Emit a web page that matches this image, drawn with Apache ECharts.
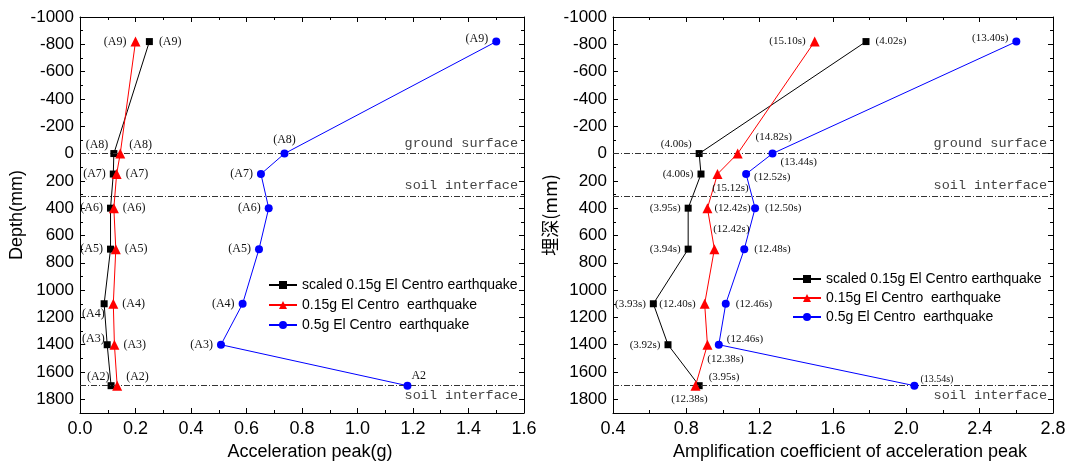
<!DOCTYPE html>
<html>
<head>
<meta charset="utf-8">
<script src="https://cdn.jsdelivr.net/npm/echarts@6/dist/echarts.min.js"></script>
<style>
  html, body { margin: 0; padding: 0; background: #fff; }
  #chart { width: 1072px; height: 466px; }
</style>
</head>
<body>
<div id="chart"></div>
<script>
// Measuring points from top (A9, above ground) to bottom (A2, lower soil interface)
const depthMm = [-820, 0, 150, 400, 700, 1100, 1400, 1700];

// Acceleration peak (g)
const accScaled = [0.25, 0.122, 0.12, 0.11, 0.11, 0.087, 0.098, 0.112];
const acc015 = [0.20, 0.145, 0.132, 0.122, 0.129, 0.12, 0.124, 0.134];
const acc05 = [1.50, 0.737, 0.652, 0.68, 0.645, 0.586, 0.508, 1.18];

// Amplification coefficient of acceleration peak
const ampScaled = [1.78, 0.87, 0.88, 0.81, 0.81, 0.62, 0.70, 0.87];
const amp015 = [1.50, 1.08, 0.97, 0.915, 0.953, 0.90, 0.915, 0.85];
const amp05 = [2.60, 1.27, 1.126, 1.175, 1.116, 1.015, 0.977, 2.044];

// Point labels
const pointTagsScaled = ['(A9)', '(A8)', '(A7)', '(A6)', '(A5)', '(A4)', '(A3)', '(A2)'];
const pointTags015 = ['(A9)', '(A8)', '(A7)', '(A6)', '(A5)', '(A4)', '(A3)', '(A2)'];
const pointTags05 = ['(A9)', '(A8)', '(A7)', '(A6)', '(A5)', '(A4)', '(A3)', 'A2'];

// Time of peak acceleration
const peakTimeScaled = ['(4.02s)', '(4.00s)', '(4.00s)', '(3.95s)', '(3.94s)', '(3.93s)', '(3.92s)', '(3.95s)'];
const peakTime015 = ['(15.10s)', '(14.82s)', '(15.12s)', '(12.42s)', '(12.42s)', '(12.40s)', '(12.38s)', '(12.38s)'];
const peakTime05 = ['(13.40s)', '(13.44s)', '(12.52s)', '(12.50s)', '(12.48s)', '(12.46s)', '(12.46s)', '(13.54s)'];

// Depth axis ticks and reference levels
const depthTickStep = 200;
const groundSurface = 0;
const soilInterfaceUpper = 310;
const soilInterfaceLower = 1700;

const seriesNames = [
  'scaled 0.15g El Centro earthquake',
  '0.15g El Centro  earthquake',
  '0.5g El Centro  earthquake'
];

// ---- label placement: [side, dx, dy] per point ----
const placeAccScaled = [['right',2,0],['left',2,-9],['left',0,0],['left',0,0],['left',0,0],['left',8,10],['left',5,-6],['left',6,-9]];
const placeAcc015 = [['left',0,0],['right',0,-9],['right',0,0],['right',0,0],['right',0,0],['right',0,0],['right',0,0],['right',0,-9]];
const placeAcc05 = [['left',0,-3],['top',0,0],['left',0,0],['left',0,0],['left',0,0],['left',0,0],['left',0,0],['right',-4,-10]];
const placeAmpScaled = [['right',2,0],['left',0,-9],['left',0,0],['left',0,0],['left',0,0],['left',0,0],['left',0,0],['right',2,-9]];
const placeAmp015 = [['left',0,0],['top',36,-2],['bottom',13,0],['right',-2,0],['top',17,-6],['left',0,0],['bottom',18,0],['bottom',-6,-1]];
const placeAmp05 = [['left',0,-3],['right',0,9],['right',0,3],['right',2,0],['right',2,0],['right',2,0],['right',0,-6],['right',-2,-6]];

const serif = '"Liberation Serif", "DejaVu Serif", serif';
const sans = '"Liberation Sans", Arial, sans-serif';
const mono = '"Liberation Mono", "DejaVu Sans Mono", monospace';

function buildData(xs, tags, place, fontSize, smallLast) {
  return xs.map(function (x, i) {
    const p = place[i];
    return {
      value: [x, depthMm[i]],
      label: {
        show: true,
        position: p[0],
        offset: [p[1], p[2]],
        distance: 4,
        formatter: tags[i],
        fontFamily: serif,
        fontSize: (smallLast && i === xs.length - 1) ? 10 : fontSize,
        color: '#111'
      }
    };
  });
}

const refLineStyle = { type: [6, 2, 1, 2], color: '#333', width: 1 };
const refLabel = { color: '#444', fontFamily: mono, fontSize: 13.5, distance: [6, 3] };
function refLines() {
  return {
    silent: true,
    symbol: ['none', 'none'],
    lineStyle: refLineStyle,
    data: [
      { yAxis: groundSurface, label: Object.assign({ formatter: 'ground surface', position: 'insideEndTop' }, refLabel) },
      { yAxis: soilInterfaceUpper, label: Object.assign({ formatter: 'soil interface', position: 'insideEndTop' }, refLabel) },
      { yAxis: soilInterfaceLower, label: Object.assign({ formatter: 'soil interface', position: 'insideEndBottom' }, refLabel) }
    ]
  };
}

const styles = [
  { color: '#000000', symbol: 'rect', size: 7, z: 4 },
  { color: '#ff0000', symbol: 'triangle', size: 10, z: 6 },
  { color: '#0000ff', symbol: 'circle', size: 8, z: 5 }
];

function lineSeries(k, xs, tags, place, axisIndex, withMark, fontSize, smallLast) {
  const s = {
    name: seriesNames[k],
    type: 'line',
    xAxisIndex: axisIndex,
    yAxisIndex: axisIndex,
    data: buildData(xs, tags, place, fontSize, smallLast),
    symbol: styles[k].symbol,
    symbolSize: styles[k].size,
    showAllSymbol: true,
    lineStyle: { color: styles[k].color, width: 1 },
    itemStyle: { color: styles[k].color },
    emphasis: { disabled: true },
    animation: false,
    z: styles[k].z
  };
  if (withMark) s.markLine = refLines();
  return s;
}

function xAxisPair(gridIndex, min, max, interval, name, padLeft) {
  const common = {
    type: 'value', gridIndex: gridIndex, min: min, max: max, interval: interval,
    axisLine: { show: true, onZero: false, lineStyle: { color: '#000', width: 1 } },
    axisTick: { show: true, inside: true, length: 5, lineStyle: { color: '#000' } },
    minorTick: { show: true, splitNumber: 2, length: 3, lineStyle: { color: '#000' } },
    splitLine: { show: false }
  };
  return [
    Object.assign({}, common, {
      position: 'bottom',
      name: name, nameLocation: 'middle', nameGap: 30,
      nameTextStyle: { fontFamily: sans, fontSize: 18, color: '#000', padding: [0, 0, 0, padLeft] },
      axisLabel: { show: true, margin: 7, fontFamily: sans, fontSize: 18, color: '#000',
        formatter: function (v) { return v.toFixed(1); } }
    }),
    Object.assign({}, common, { position: 'top', axisLabel: { show: false } })
  ];
}

function yAxisPair(gridIndex, name, nameFont) {
  const common = {
    type: 'value', gridIndex: gridIndex, inverse: true,
    min: -1000, max: 1900, interval: depthTickStep,
    axisLine: { show: true, onZero: false, lineStyle: { color: '#000', width: 1 } },
    axisTick: { show: true, inside: true, length: 5, lineStyle: { color: '#000' } },
    minorTick: { show: true, splitNumber: 2, length: 3, lineStyle: { color: '#000' } },
    splitLine: { show: false }
  };
  return [
    Object.assign({}, common, {
      position: 'left',
      name: name, nameLocation: 'middle', nameGap: 54, nameRotate: 90,
      nameTextStyle: { fontFamily: nameFont, fontSize: 18, color: '#000' },
      axisLabel: { show: true, margin: 6, fontFamily: sans, fontSize: 17, color: '#000',
        showMaxLabel: false,
        formatter: function (v) { return String(v); } }
    }),
    Object.assign({}, common, { position: 'right', axisLabel: { show: false } })
  ];
}

const xAxes = [].concat(
  xAxisPair(0, 0, 1.6, 0.2, 'Acceleration peak(g)', 16),
  xAxisPair(1, 0.4, 2.8, 0.4, 'Amplification coefficient of acceleration peak', 34)
);
const yAxes = [].concat(
  yAxisPair(0, 'Depth(mm)', sans),
  yAxisPair(1, '埋深(mm)', '"Noto Sans CJK SC", sans-serif')
);

const legendBase = {
  orient: 'vertical',
  itemWidth: 28,
  itemHeight: 10,
  selectedMode: false,
  textStyle: { fontFamily: sans, fontSize: 14, color: '#000' },
  data: seriesNames
};

const option = {
  backgroundColor: '#fff',
  animation: false,
  grid: [
    { left: 80, right: 548, top: 17, bottom: 53, outerBoundsMode: 'none' },
    { left: 613, right: 19, top: 17, bottom: 53, outerBoundsMode: 'none' }
  ],
  legend: [
    Object.assign({}, legendBase, { left: 263, top: 273, itemGap: 6 }),
    Object.assign({}, legendBase, { left: 787, top: 267, itemGap: 5 })
  ],
  xAxis: xAxes,
  yAxis: yAxes,
  series: [
    lineSeries(0, accScaled, pointTagsScaled, placeAccScaled, 0, true, 12, false),
    lineSeries(1, acc015, pointTags015, placeAcc015, 0, false, 12, false),
    lineSeries(2, acc05, pointTags05, placeAcc05, 0, false, 12, false),
    lineSeries(0, ampScaled, peakTimeScaled, placeAmpScaled, 2, true, 11, false),
    lineSeries(1, amp015, peakTime015, placeAmp015, 2, false, 11, false),
    lineSeries(2, amp05, peakTime05, placeAmp05, 2, false, 11, true)
  ]
};

const chart = echarts.init(document.getElementById('chart'), null, { renderer: 'canvas' });
chart.setOption(option);
</script>
</body>
</html>
